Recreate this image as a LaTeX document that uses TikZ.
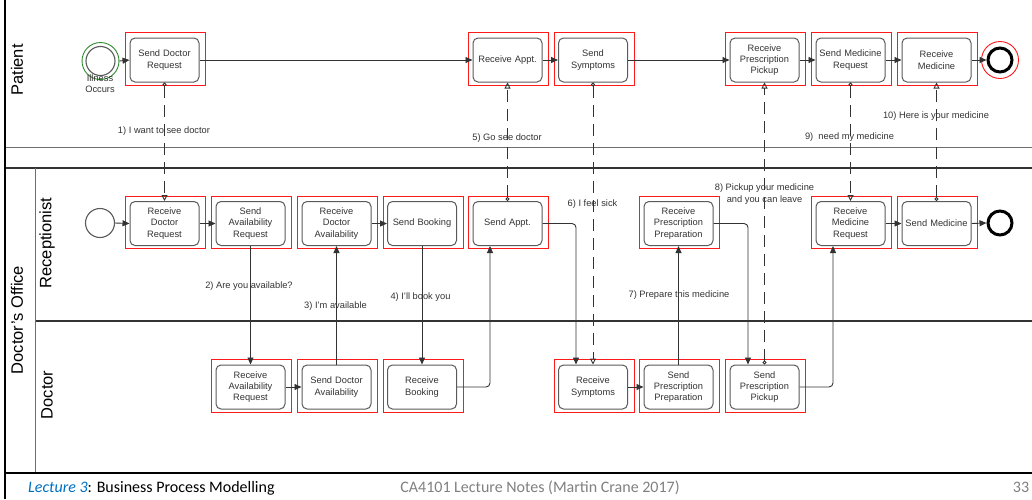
\documentclass[tikz,border=0pt]{standalone}
\usepackage{fontspec}
\setmainfont{Liberation Sans}
\newfontfamily\footfont{Carlito}
\usetikzlibrary{arrows.meta}

\definecolor{boxline}{HTML}{5A5A5A}
\definecolor{ink}{HTML}{333333}
\definecolor{laneline}{HTML}{6E6E6E}
\definecolor{framered}{HTML}{FF1A1A}
\definecolor{lecblue}{HTML}{0070C0}
\definecolor{footgray}{HTML}{808080}
\definecolor{startgreen}{HTML}{2E8B2E}

\begin{document}
\begin{tikzpicture}[x=1pt,y=-1pt,
  task/.style={draw=boxline, line width=1pt, rounded corners=5pt,
    minimum width=69pt, minimum height=44pt, text width=66pt, align=center,
    inner sep=0pt, font=\fontsize{9.3}{11.4}\selectfont, text=ink, fill=white},
  seq/.style={draw=ink, line width=0.9pt, -{Triangle[length=7pt,width=6pt]}},
  elbow/.style={seq, rounded corners=4pt},
  msg/.style={draw=ink, line width=0.9pt, dash pattern=on 12pt off 7pt,
    {Circle[open,length=4pt,width=4pt]}-{Triangle[open,length=6pt,width=6pt]}},
  lbl/.style={font=\fontsize{9.3}{11.4}\selectfont, text=ink, inner sep=0pt, align=center},
  lanetitle/.style={rotate=90, font=\fontsize{16.5}{20}\selectfont, text=black, inner sep=0pt},
  frame/.style={draw=framered, line width=0.9pt},
  evt/.style={circle, draw=boxline, line width=1.1pt, minimum size=29pt, inner sep=0pt},
  endevt/.style={circle, draw=black, line width=3pt, minimum size=24pt, inner sep=0pt},
  foot/.style={inner sep=0pt, font=\footfont\fontsize{16}{19}\selectfont}
]
\useasboundingbox (0,0) rectangle (1032,499);

% pool and lane borders
\draw[laneline, line width=1pt] (5,147) -- (1032,147);
\draw[ink, line width=1.3pt] (5,168) -- (1032,168);
\draw[laneline, line width=1pt] (35.5,168) -- (35.5,473);
\draw[ink, line width=1.3pt] (35.5,321) -- (1032,321);
\draw[black, line width=1.6pt] (5,473) -- (1032,473);
\draw[black, line width=2pt] (5,0) -- (5,499);

% lane titles
\node[lanetitle] (tpat) at (17,70) {Patient};
\node[lanetitle] (toff) at (17,320) {Doctor’s Office};
\node[lanetitle] (trec) at (47,243) {Receptionist};
\node[lanetitle] (tdoc) at (47,395) {Doctor};

% patient lane
\node[circle, draw=startgreen, line width=0.9pt, minimum size=37pt, inner sep=0pt] (pring) at (100.5,61) {};
\node[evt] (pstart) at (100.5,61) {};
\node[lbl] (ill) at (100,83.5) {Illness\\Occurs};
\node[task] (sdr) at (164.5,60) {Send Doctor\\Request};
\node[task] (ra)  at (507.5,60) {Receive Appt.};
\node[task] (ss)  at (593,60)   {Send\\Symptoms};
\node[task] (rpk) at (764.5,60) {Receive\\Prescription\\Pickup};
\node[task] (smr) at (850.5,60) {Send Medicine\\Request};
\node[task] (rm)  at (936.5,60) {Receive\\Medicine};
\node[endevt] (pend) at (1000,60) {};
\node[circle, draw=framered, line width=0.9pt, minimum size=37pt, inner sep=0pt] (pendring) at (1000,60) {};

% receptionist lane
\node[evt] (rstart) at (100,223) {};
\node[task] (rdr) at (164.5,223.5) {Receive\\Doctor\\Request};
\node[task] (sar) at (250.5,223.5) {Send\\Availability\\Request};
\node[task] (rda) at (336.5,223.5) {Receive\\Doctor\\Availability};
\node[task] (sb)  at (422,223.5)   {Send Booking};
\node[task] (sap) at (507.5,223.5) {Send Appt.};
\node[task] (rpp) at (678.5,223.5) {Receive\\Prescription\\Preparation};
\node[task] (rmr) at (850.5,223.5) {Receive\\Medicine\\Request};
\node[task] (sm)  at (936.5,223.5) {Send Medicine};
\node[endevt] (rend) at (1000,223) {};

% doctor lane
\node[task] (rar) at (250.5,387) {Receive\\Availability\\Request};
\node[task] (sda) at (336.5,387) {Send Doctor\\Availability};
\node[task] (rb)  at (422,387)   {Receive\\Booking};
\node[task] (rs)  at (593,387)   {Receive\\Symptoms};
\node[task] (spp) at (678.5,387) {Send\\Prescription\\Preparation};
\node[task] (spk) at (764.5,387) {Send\\Prescription\\Pickup};

% highlight frames round the tasks
\foreach \n in {sdr,ra,ss,rpk,smr,rm,rdr,sar,rda,sb,sap,rpp,rmr,sm,rar,sda,rb,rs,spp,spk}
  \draw[frame] ([shift={(-4pt,-2.5pt)}]\n.south west) rectangle ([shift={(6pt,5pt)}]\n.north east);

% sequence flows within lanes
\draw[seq] (pring.east) -- (sdr.west);
\draw[seq] (sdr.east) -- (ra.west);
\draw[seq] (ra.east) -- (ss.west);
\draw[seq] (ss.east) -- (rpk.west);
\draw[seq] (rpk.east) -- (smr.west);
\draw[seq] (smr.east) -- (rm.west);
\draw[seq] (rm.east) -- (pend.west);

\draw[seq] (rstart.east) -- (rdr.west);
\draw[seq] (rdr.east) -- (sar.west);
\draw[seq] (rda.east) -- (sb.west);
\draw[seq] (rmr.east) -- (sm.west);
\draw[seq] (sm.east) -- (rend.west);

\draw[seq] (rar.east) -- (sda.west);
\draw[seq] (rs.east) -- (spp.west);

% sequence flows between receptionist and doctor
\draw[seq] (sar.south) -- (rar.north);
\draw[seq] (sda.north) -- (rda.south);
\draw[seq] (sb.south) -- (rb.north);
\draw[elbow] (rb.east) -| ([xshift=-17.5pt]sap.south);
\draw[elbow] (sap.east) -| ([xshift=-17pt]rs.north);
\draw[seq] (spp.north) -- (rpp.south);
\draw[elbow] (rpp.east) -| ([xshift=-16.5pt]spk.north);
\draw[elbow] (spk.east) -| ([xshift=-17.5pt]rmr.south);

% message flows
\draw[msg] (sdr.south) -- (rdr.north);
\draw[msg] (sap.north) -- (ra.south);
\draw[msg] (ss.south) -- (rs.north);
\draw[msg] (spk.north) -- (rpk.south);
\draw[msg] (smr.south) -- (rmr.north);
\draw[msg] (sm.north) -- (rm.south);

% flow labels
\node[lbl] (l1)  at (164,131)   {1) I want to see doctor};
\node[lbl] (l2)  at (249,286)   {2) Are you available?};
\node[lbl] (l3)  at (335.5,306) {3) I'm available};
\node[lbl] (l4)  at (420.5,297) {4) I'll book you};
\node[lbl] (l5)  at (507,138)   {5) Go see doctor};
\node[lbl] (l6)  at (592.5,204) {6) I feel sick};
\node[lbl] (l7)  at (679,295)   {7) Prepare this medicine};
\node[lbl] (l8)  at (764.5,194) {8) Pickup your medicine\\and you can leave};
\node[lbl] (l9)  at (849.5,137) {9)\ \ need my medicine};
\node[lbl] (l10) at (936,116)   {10) Here is your medicine};

% footer
\node[foot, anchor=base west] (fleft) at (28,492)
  {\textcolor{lecblue}{\itshape Lecture 3}: Business Process Modelling};
\node[foot, anchor=base, text=footgray] (fmid) at (540,492)
  {CA4101 Lecture Notes (Martin Crane 2017)};
\node[foot, anchor=base, text=footgray] (fnum) at (1021,492) {33};
\end{tikzpicture}
\end{document}
